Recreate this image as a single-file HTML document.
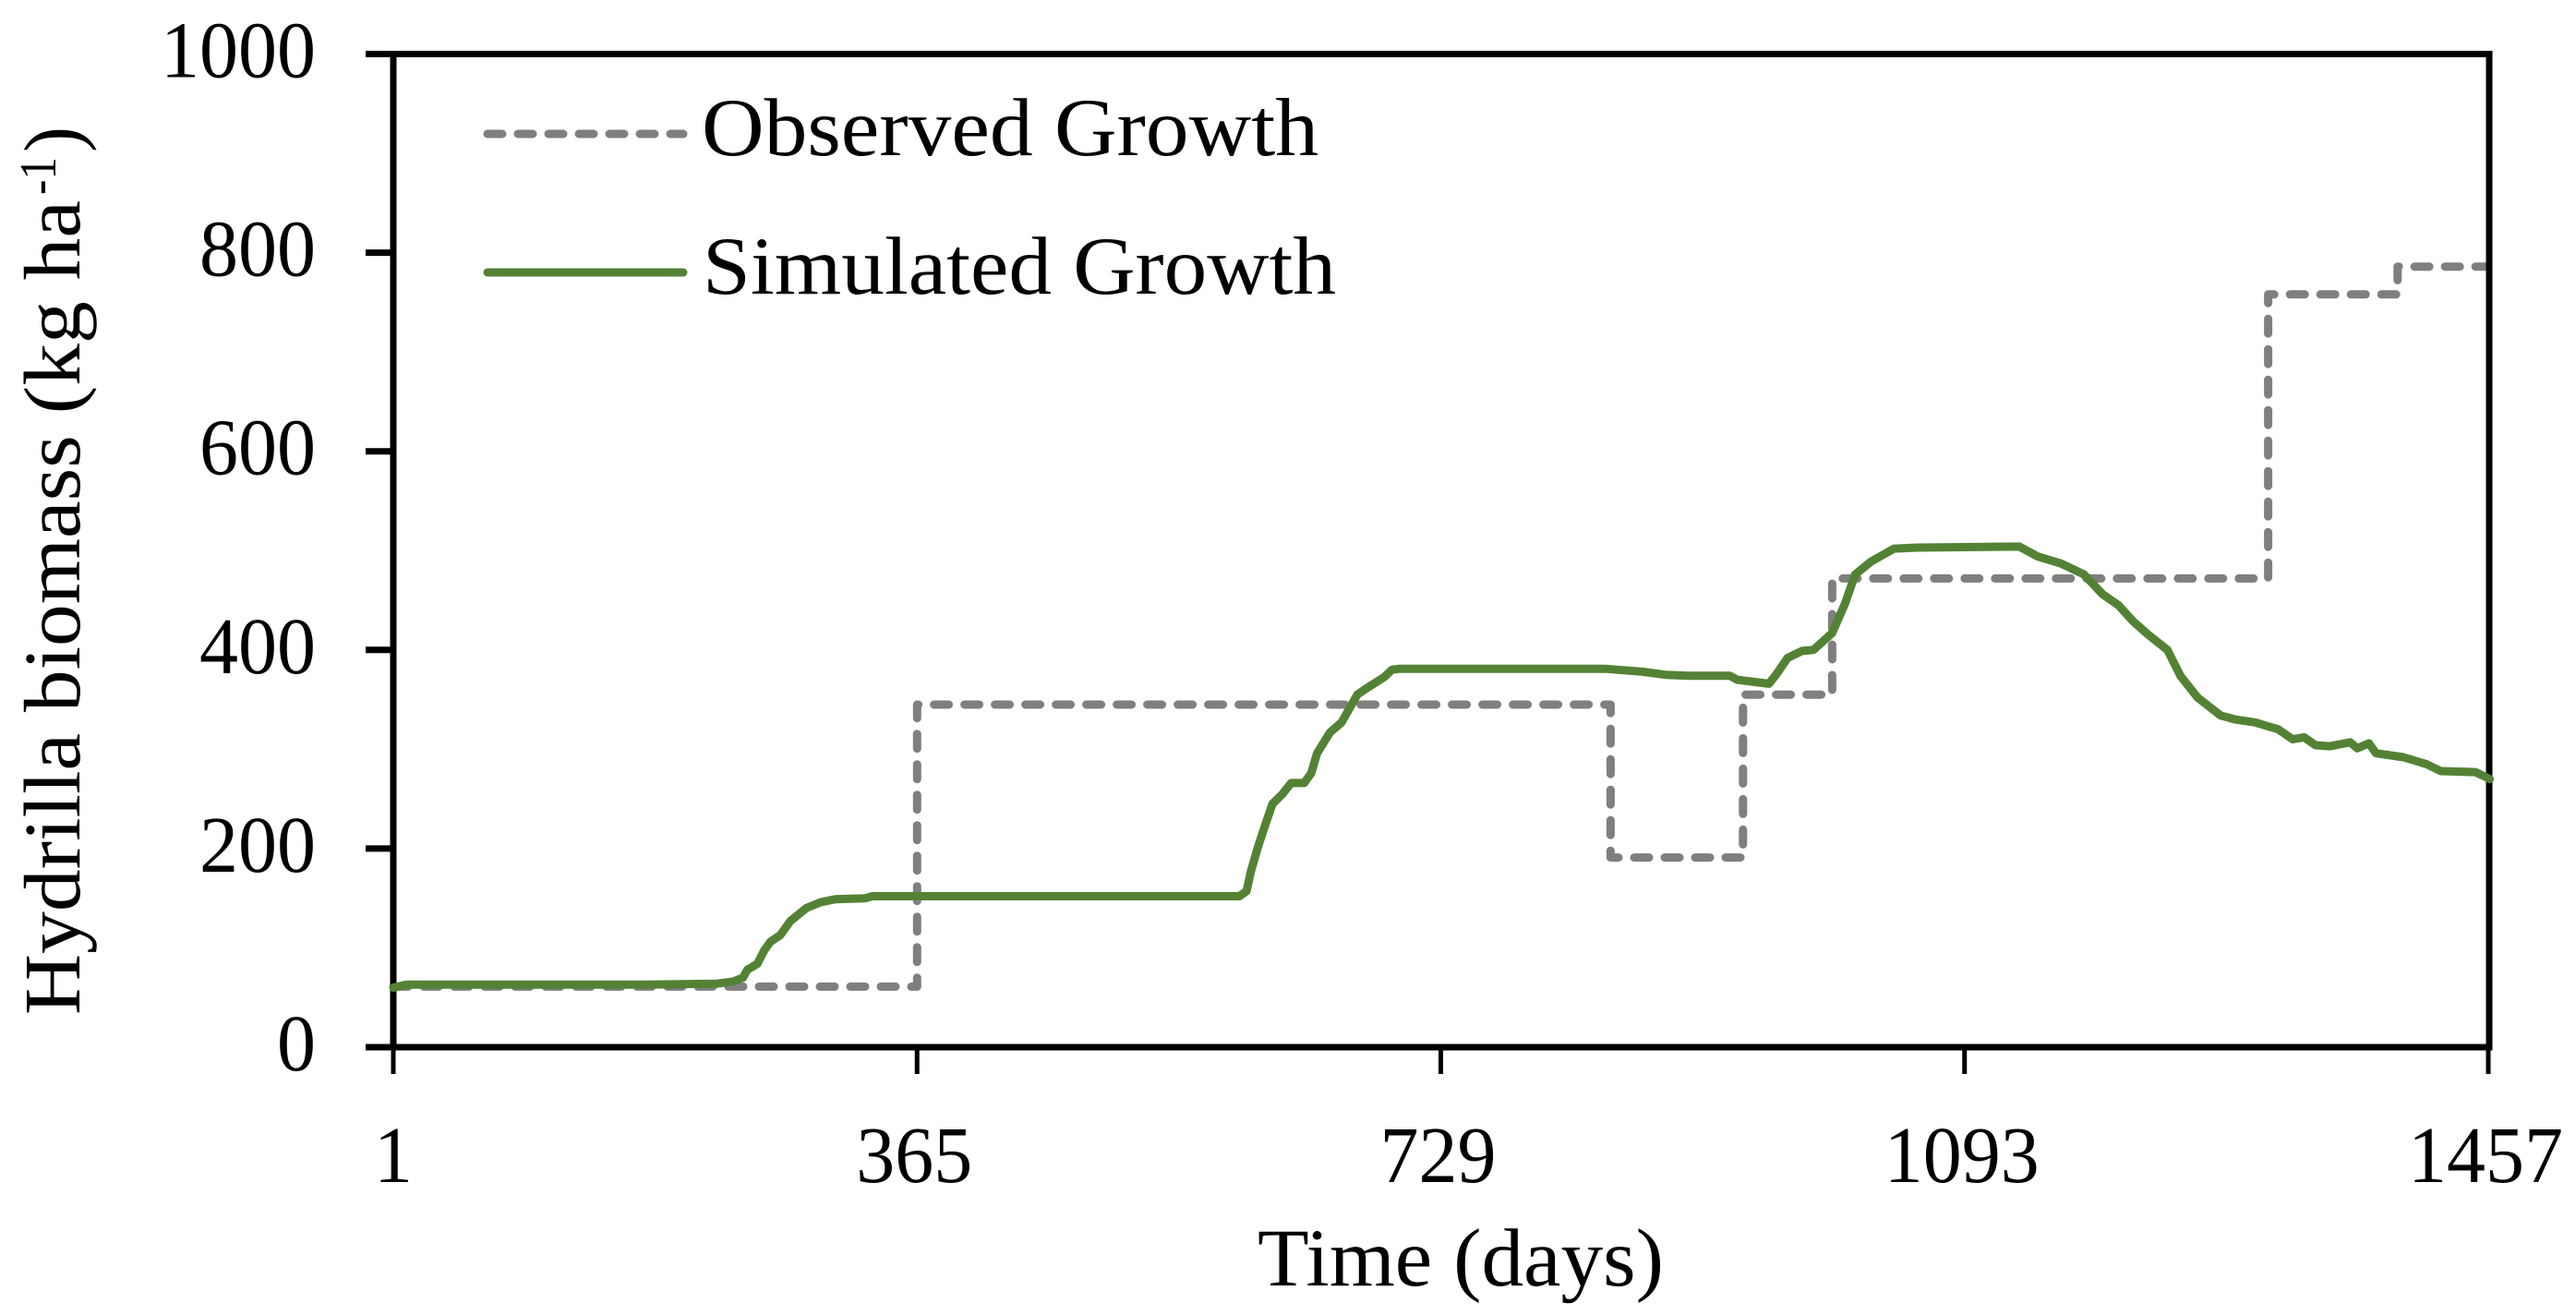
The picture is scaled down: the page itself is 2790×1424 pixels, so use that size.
<!DOCTYPE html>
<html>
<head>
<meta charset="utf-8">
<title>Hydrilla biomass chart</title>
<style>
html,body{margin:0;padding:0;background:#fff;}
svg{display:block;}
text{font-family:"Liberation Serif",serif;fill:#000;}
</style>
</head>
<body>
<svg id="chart" xmlns="http://www.w3.org/2000/svg" width="2790" height="1424" viewBox="0 0 2790 1424">
  <rect x="0" y="0" width="2790" height="1424" fill="#fff"/>
  <g id="marks"></g>
  <g id="axes"></g>
  <g id="seriesTop"></g>

  <g>
    <text transform="translate(86,1099) rotate(-90)" font-size="87" textLength="882" lengthAdjust="spacingAndGlyphs">Hydrilla biomass (kg ha</text>
    <text transform="translate(60,211) rotate(-90)" font-size="56" textLength="41" lengthAdjust="spacingAndGlyphs">-1</text>
    <text transform="translate(86,165) rotate(-90)" font-size="87" textLength="28" lengthAdjust="spacingAndGlyphs">)</text>
  </g>
  <text x="1362" y="1392" font-size="89" textLength="440" lengthAdjust="spacingAndGlyphs">Time (days)</text>

  <g>
    <line x1="528" y1="145" x2="740" y2="145" stroke="#7f7f7f" stroke-width="9" stroke-linecap="round" stroke-dasharray="16 17"/>
    <text x="760" y="168" font-size="89" textLength="668" lengthAdjust="spacingAndGlyphs">Observed Growth</text>
    <line x1="528" y1="295" x2="740" y2="295" stroke="#548235" stroke-width="9" stroke-linecap="round"/>
    <text x="761" y="318" font-size="89" textLength="686" lengthAdjust="spacingAndGlyphs">Simulated Growth</text>
  </g>
</svg>
<script>
var yTickValues = [0, 200, 400, 600, 800, 1000];
var xTickValues = [1, 365, 729, 1093, 1457];
var observedDays = [1, 365, 365, 847, 847, 939, 939, 1001, 1001, 1304, 1304, 1394, 1394, 1457];
var observedValues = [61, 61, 345, 345, 191, 191, 355, 355, 472, 472, 758, 758, 786, 786];
var simulatedDays = [1, 10, 177, 226, 237, 244, 247, 254, 259, 263, 270, 277, 288, 298, 308, 329, 334, 589, 594, 597, 602, 607, 612, 619, 625, 634, 639, 643, 652, 660, 671, 676, 690, 695, 700, 843, 870, 885, 901, 930, 935, 957, 962, 970, 980, 988, 1001, 1010, 1017, 1028, 1044, 1060, 1131, 1144, 1160, 1176, 1189, 1200, 1210, 1221, 1234, 1243, 1255, 1271, 1281, 1295, 1311, 1321, 1329, 1337, 1347, 1361, 1366, 1374, 1379, 1398, 1414, 1424, 1448, 1458];
var simulatedValues = [60, 63, 63, 64, 66, 70, 78, 84, 98, 106, 113, 127, 140, 146, 149, 150, 152, 152, 157, 177, 202, 224, 245, 255, 266, 266, 276, 296, 317, 327, 355, 360, 373, 380, 381, 381, 378, 375, 374, 374, 370, 366, 375, 392, 399, 400, 417, 447, 476, 489, 502, 503, 504, 494, 487, 476, 456, 445, 429, 415, 400, 374, 352, 334, 330, 327, 320, 310, 312, 304, 303, 307, 301, 306, 296, 292, 285, 278, 277, 270];

var NS = 'http://www.w3.org/2000/svg';
var plotLeft = 426, plotRight = 2696, plotTop = 58.5, plotBottom = 1134;
var xMin = 1, xMax = 1458, yMin = 0, yMax = 1000;

function xScale(d) { return plotLeft + (d - xMin) * (2269 / 1456); }
function yScale(v) { return plotBottom - (v - yMin) / (yMax - yMin) * (plotBottom - plotTop); }
function pathFrom(days, values) {
  var s = '';
  for (var i = 0; i < days.length; i++) {
    s += (i ? 'L' : 'M') + xScale(days[i]).toFixed(1) + ' ' + yScale(values[i]).toFixed(1);
  }
  return s;
}
function make(tag, parent) {
  var el = document.createElementNS(NS, tag);
  parent.appendChild(el);
  return el;
}

var marks = document.getElementById('marks');
var axes = document.getElementById('axes');
var seriesTop = document.getElementById('seriesTop');

var obs = make('path', marks);


obs.setAttribute('d', pathFrom(observedDays, observedValues));
obs.setAttribute('fill', 'none');
obs.setAttribute('stroke', '#7f7f7f');
obs.setAttribute('stroke-width', '9');
obs.setAttribute('stroke-linecap', 'round');
obs.setAttribute('stroke-linejoin', 'round');
obs.setAttribute('stroke-dasharray', '16 17');

var frame = make('rect', axes);


frame.setAttribute('x', plotLeft);
frame.setAttribute('y', plotTop);
frame.setAttribute('width', plotRight - plotLeft);
frame.setAttribute('height', plotBottom - plotTop);
frame.setAttribute('fill', 'none');
frame.setAttribute('stroke', '#000');
frame.setAttribute('stroke-width', '7');

yTickValues.forEach(function (v) {
  var y = yScale(v);
  var t = make('line', axes);
  
  
  t.setAttribute('x1', 396);
  t.setAttribute('x2', plotLeft);
  t.setAttribute('y1', y);
  t.setAttribute('y2', y);
  t.setAttribute('stroke', '#000');
  t.setAttribute('stroke-width', '7');
  var lab = make('text', axes);
  
  
  var s = String(v);
  lab.setAttribute('x', 342 - s.length * 42);
  lab.setAttribute('y', y + 25);
  lab.setAttribute('font-size', '87');
  lab.setAttribute('textLength', s.length * 42);
  lab.setAttribute('lengthAdjust', 'spacingAndGlyphs');
  lab.textContent = s;
});

xTickValues.forEach(function (d) {
  var x = xScale(d);
  var t = make('line', axes);
  
  
  t.setAttribute('x1', x);
  t.setAttribute('x2', x);
  t.setAttribute('y1', plotBottom);
  t.setAttribute('y2', 1163);
  t.setAttribute('stroke', '#000');
  t.setAttribute('stroke-width', '5');
  var lab = make('text', axes);
  
  
  var s = String(d);
  var w = s.length * 42;
  lab.setAttribute('x', x - w / 2 - (s.length > 1 ? 3 : 0));
  lab.setAttribute('y', 1280);
  lab.setAttribute('font-size', '87');
  lab.setAttribute('textLength', w);
  lab.setAttribute('lengthAdjust', 'spacingAndGlyphs');
  lab.textContent = s;
});

var sim = make('path', seriesTop);


sim.setAttribute('d', pathFrom(simulatedDays, simulatedValues));
sim.setAttribute('fill', 'none');
sim.setAttribute('stroke', '#548235');
sim.setAttribute('stroke-width', '9');
sim.setAttribute('stroke-linecap', 'round');
sim.setAttribute('stroke-linejoin', 'round');
</script>
</body>
</html>
